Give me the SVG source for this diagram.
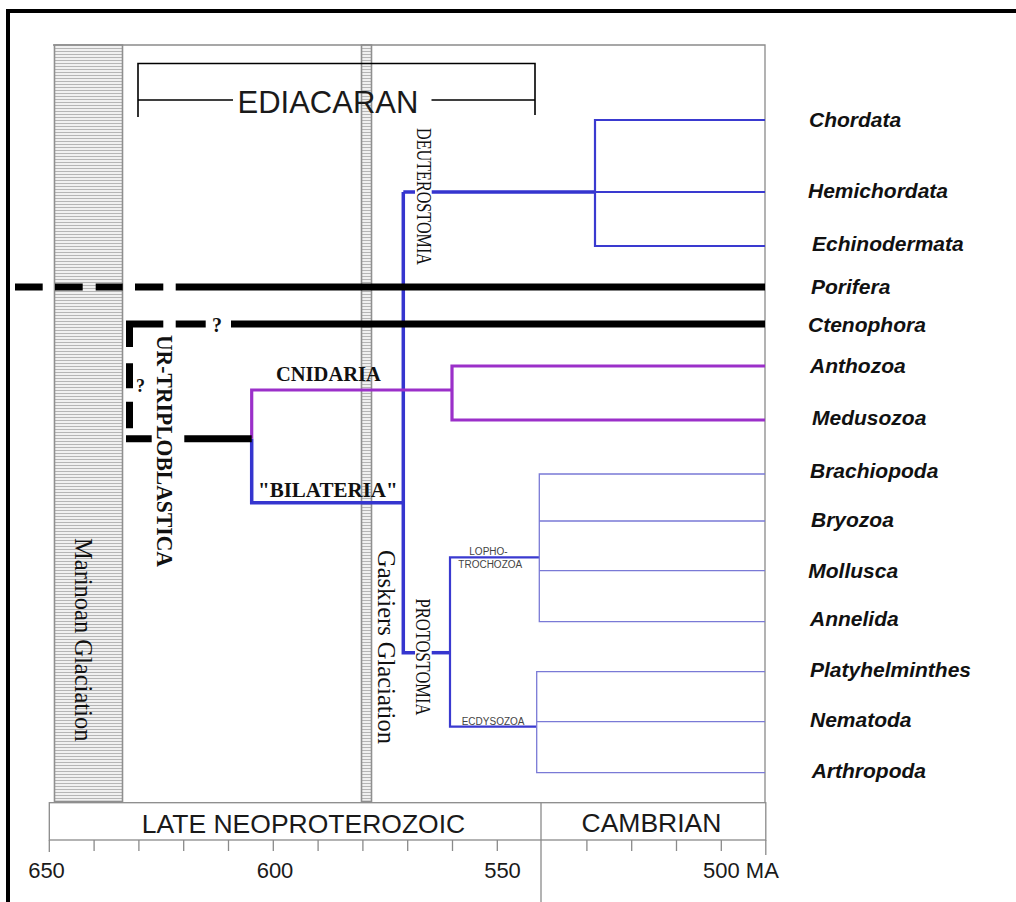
<svg xmlns="http://www.w3.org/2000/svg" width="1016" height="902" viewBox="0 0 1016 902">
<defs>
<pattern id="hatch" width="6" height="3" patternUnits="userSpaceOnUse">
<rect width="6" height="3" fill="#f0f0f0"/>
<line x1="0" y1="0.5" x2="6" y2="0.5" stroke="#b5b5b5" stroke-width="1"/>
</pattern>
<style>
.frame{stroke:#000;stroke-width:4;fill:none}
.grid{stroke:#8a8a8a;stroke-width:1.3;fill:none}
.bar{fill:url(#hatch);stroke:#8f8f8f;stroke-width:1.6}
.blk{stroke:#000;stroke-width:7;fill:none}
.brk{stroke:#000;stroke-width:1.6;fill:none}
.bt{stroke:#3535cf;stroke-width:3.5;fill:none}
.bm{stroke:#3a3ad0;stroke-width:2.2;fill:none}
.leaf{stroke:#7a7ad6;stroke-width:1.3;fill:none}
.pur{stroke:#9b30c9;stroke-width:3.2;fill:none}
.taxon{font-family:"Liberation Sans",Arial,sans-serif;font-weight:bold;font-style:italic;font-size:21px;fill:#111}
.sans{font-family:"Liberation Sans",Arial,sans-serif;fill:#1a1a1a}
.serif{font-family:"Liberation Serif","Times New Roman",serif;fill:#111}
.sb{font-family:"Liberation Serif","Times New Roman",serif;font-weight:bold;fill:#111}
.small{font-family:"Liberation Sans",Arial,sans-serif;font-size:10px;fill:#444}
</style>
</defs>
<rect width="1016" height="902" fill="#fff"/>

<!-- outer frame -->
<path class="frame" d="M8,902 V11 H1016"/>

<!-- plot area frame -->
<path class="grid" d="M53,45 H765 V802.7"/>

<!-- glaciation bars -->
<g id="marinoan">
<rect class="bar" x="54.5" y="45" width="68" height="756.5"/>
<text class="serif" font-size="24.5" transform="translate(75,538) rotate(90)">Marinoan Glaciation</text>
</g>
<g id="gaskiers">
<rect class="bar" x="361.5" y="45" width="10" height="756.5"/>
<text class="serif" font-size="24.5" transform="translate(378,550) rotate(90)">Gaskiers Glaciation</text>
</g>

<!-- Ediacaran bracket -->
<g id="ediacaran">
<path class="brk" d="M138,117 V63.5 H535 V115"/>
<path class="brk" d="M138,100 H233 M431.5,100 H535"/>
<text class="sans" font-size="31" x="237.5" y="113" fill="#111">EDIACARAN</text>
</g>

<!-- timeline -->
<g id="timeline">
<rect class="grid" x="49.3" y="802.7" width="716.5" height="37.3"/>
<line class="grid" x1="541" y1="802.7" x2="541" y2="902"/>
<g class="grid">
<path d="M49.3,840 v12 M94.1,840 v11 M138.9,840 v11 M183.7,840 v11 M228.5,840 v11 M273.3,840 v11 M318.1,840 v11 M362.9,840 v11 M407.7,840 v11 M452.5,840 v11 M497.3,840 v11 M586.9,840 v11 M631.7,840 v11 M676.5,840 v11 M721.3,840 v11 M765.8,840 v15"/>
</g>
<text class="sans" font-size="26.5" x="303.5" y="833" text-anchor="middle">LATE NEOPROTEROZOIC</text>
<text class="sans" font-size="26.5" x="651.5" y="832" text-anchor="middle">CAMBRIAN</text>
<text class="sans" font-size="22" x="46.5" y="877.5" text-anchor="middle">650</text>
<text class="sans" font-size="22" x="275" y="877.5" text-anchor="middle">600</text>
<text class="sans" font-size="22" x="502.5" y="877.5" text-anchor="middle">550</text>
<text class="sans" font-size="22" x="703" y="877.5">500 MA</text>
</g>

<!-- connectors -->
<g id="connectors">
<!-- bilateria -->
<path class="bt" d="M251.7,438.7 V502.7 H403.3"/>
<path class="bt" d="M403.3,192 V652.7 H415"/>
<path class="bt" d="M403.3,192 H415 M431.7,192 H595"/>
<path class="bt" d="M431.7,652.7 H450" stroke-width="4.5"/>
<!-- deuterostomia leaves -->
<path class="bm" d="M765,120 H595 V246 H765 M595,192 H765"/>
<!-- protostomia -->
<path class="bm" d="M539.3,557.3 H450 V726.7 H536.7" stroke-width="2.4"/>
<path class="leaf" d="M765,474 H539.3 V621.7 H765 M539.3,521 H765 M539.3,570.7 H765"/>
<path class="leaf" d="M765,671.7 H536.7 V772.7 H765 M536.7,721.7 H765"/>
<!-- cnidaria -->
<path class="pur" d="M251.7,438.7 V390 H452 M765,366 H452 V420 H765"/>
<!-- porifera (dashed then solid) -->
<path class="blk" d="M15,287 H42.7 M55,287 H82.7 M95.7,287 H122.7 M135,287 H163.3 M175.7,287 H765"/>
<!-- ctenophora -->
<path class="blk" d="M129.5,347 V324 H163.3 M175.7,324 H205.7 M231,324 H765" stroke-width="6.5"/>
<path class="blk" d="M129.5,363.3 V388.3 M129.5,401.7 V428.3" stroke-width="6"/>
<path class="blk" d="M126,438.7 H151.7 M184.3,438.7 H251.7" stroke-width="6"/>
</g>

<!-- clade labels -->
<g id="clade-labels">
<text class="sb" font-size="20" x="212" y="331.7">?</text>
<text class="sb" font-size="18" x="136" y="391.7">?</text>
<text class="sb" font-size="22.5" textLength="232" lengthAdjust="spacingAndGlyphs" transform="translate(157,335) rotate(90)">UR-TRIPLOBLASTICA</text>
<text class="sb" font-size="20.5" x="276" y="381">CNIDARIA</text>
<text class="sb" font-size="21" x="258" y="496.5">"BILATERIA"</text>
<text class="serif" font-size="20" textLength="137" lengthAdjust="spacingAndGlyphs" transform="translate(416.5,128) rotate(90)">DEUTEROSTOMIA</text>
<text class="serif" font-size="21" textLength="117" lengthAdjust="spacingAndGlyphs" transform="translate(415.5,598.5) rotate(90)">PROTOSTOMIA</text>
<text class="small" x="469.3" y="555">LOPHO-</text>
<text class="small" x="458.3" y="568.3">TROCHOZOA</text>
<text class="small" x="461.7" y="725">ECDYSOZOA</text>
</g>

<!-- taxa -->
<g id="chordata"><text class="taxon" x="809" y="127.3">Chordata</text></g>
<g id="hemichordata"><text class="taxon" x="808" y="198.3">Hemichordata</text></g>
<g id="echinodermata"><text class="taxon" x="812" y="250.7">Echinodermata</text></g>
<g id="porifera"><text class="taxon" x="811" y="294">Porifera</text></g>
<g id="ctenophora"><text class="taxon" x="808" y="331.7">Ctenophora</text></g>
<g id="anthozoa"><text class="taxon" x="810" y="372.7">Anthozoa</text></g>
<g id="medusozoa"><text class="taxon" x="812" y="425">Medusozoa</text></g>
<g id="brachiopoda"><text class="taxon" x="810" y="478.3">Brachiopoda</text></g>
<g id="bryozoa"><text class="taxon" x="811" y="527.3">Bryozoa</text></g>
<g id="mollusca"><text class="taxon" x="808.3" y="578.3">Mollusca</text></g>
<g id="annelida"><text class="taxon" x="810" y="626">Annelida</text></g>
<g id="platyhelminthes"><text class="taxon" x="810" y="676.7">Platyhelminthes</text></g>
<g id="nematoda"><text class="taxon" x="810" y="726.7">Nematoda</text></g>
<g id="arthropoda"><text class="taxon" x="811.7" y="778.3">Arthropoda</text></g>
</svg>
